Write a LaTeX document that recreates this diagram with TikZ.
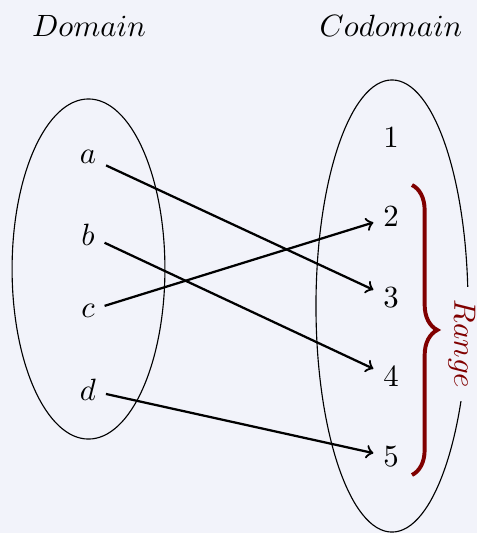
\documentclass[tikz,border=0pt]{standalone}
\usetikzlibrary{decorations.pathreplacing}
\definecolor{bgcol}{RGB}{242,243,250}
\definecolor{rangecol}{RGB}{128,0,0}
\begin{document}
\begin{tikzpicture}[x=0.0125cm,y=-0.0125cm,
  every node/.style={font=\fontsize{11}{13}\selectfont},
  elem/.style={inner sep=3.33pt},
  maparrow/.style={->,thick},
  setoval/.style={draw,line width=0.4pt}]
\useasboundingbox[fill=bgcol] (0,0) rectangle (477,533);
% sets
\draw[setoval] (88.5,269) ellipse [x radius=0.955cm, y radius=2.125cm];
\draw[setoval] (392,306) ellipse [x radius=0.95cm, y radius=2.825cm];
% titles
\node (dom) at (89,25.5) {$Domain$};
\node (cod) at (391,25.5) {$Codomain$};
% domain elements
\node[elem] (a) at (88,157) {$a$};
\node[elem] (b) at (88,235) {$b$};
\node[elem] (c) at (88,311) {$c$};
\node[elem] (d) at (88,390) {$d$};
% codomain elements
\node[elem] (n1) at (391,138) {$1$};
\node[elem] (n2) at (391,217) {$2$};
\node[elem] (n3) at (391,298) {$3$};
\node[elem] (n4) at (391,377) {$4$};
\node[elem] (n5) at (391,457) {$5$};
% mapping
\draw[maparrow] (a) -- (n3);
\draw[maparrow] (b) -- (n4);
\draw[maparrow] (c) -- (n2);
\draw[maparrow] (d) -- (n5);
% range brace
\coordinate (btop) at (412,185);
\coordinate (bbot) at (412,475);
\draw[rangecol,line width=1.4pt,decorate,decoration={brace,amplitude=9pt}] (btop) -- (bbot);
\node[fill=bgcol,text=rangecol,rotate=-90,inner xsep=4.5pt,inner ysep=1pt] (range) at (462,344) {$Range$};
\end{tikzpicture}
\end{document}
